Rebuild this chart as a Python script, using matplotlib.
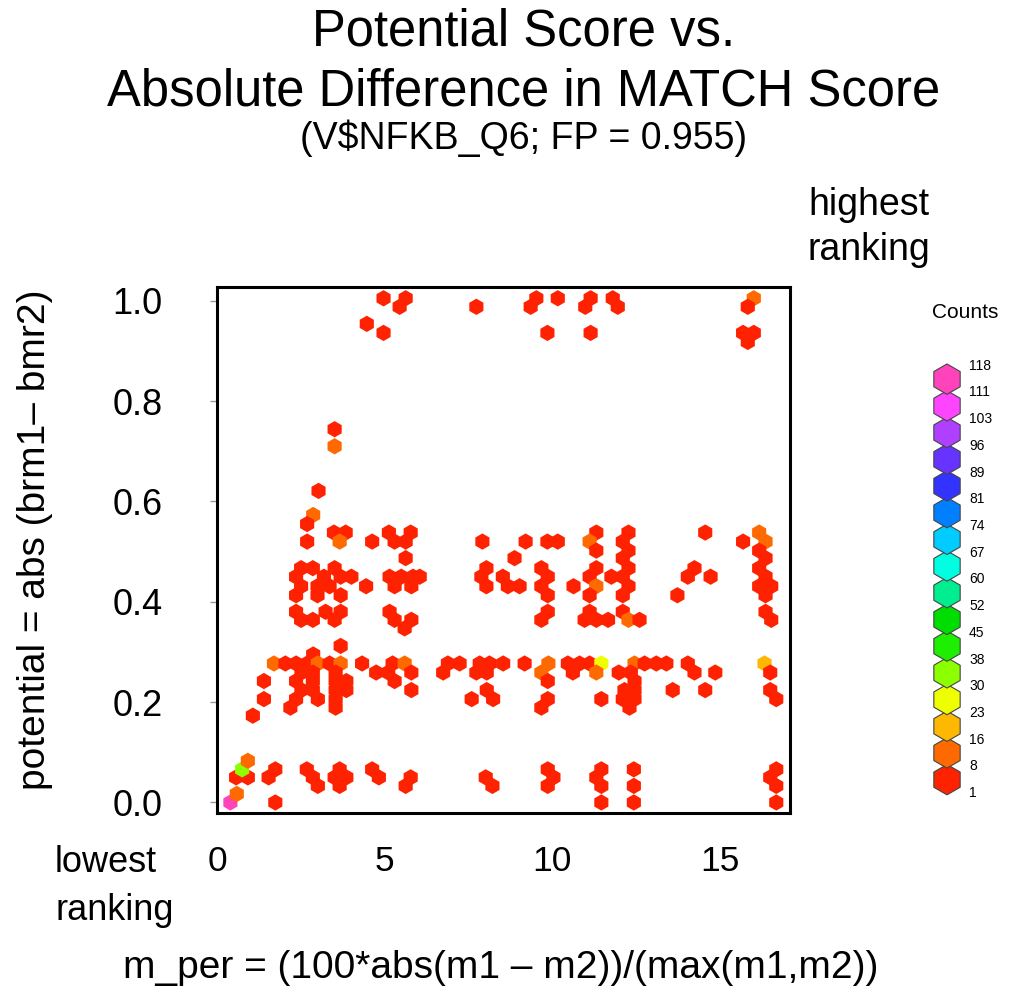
import matplotlib
matplotlib.use("Agg")
import matplotlib.pyplot as plt
from matplotlib.colors import ListedColormap, BoundaryNorm
from matplotlib.patches import RegularPolygon
import numpy as np

plt.rcParams['font.family'] = ['Liberation Sans', 'DejaVu Sans']

# ---------------- data (hexbin cells: centre x, centre y, count) ----------------
x_vals = [
    # top band
    4.97, 5.63, 5.45, 7.74, 4.47, 4.97,
    9.53, 9.36, 10.17, 11.15, 10.99, 11.81, 11.96, 9.86, 11.15,
    16.02, 15.84, 15.70, 16.02, 15.84,
    # upper middle
    3.51, 3.51, 3.03, 2.87, 2.69, 2.69,
    3.49, 3.84, 3.66, 4.63,
    5.13, 5.30, 5.63, 5.78, 5.63,
    7.92, 9.21, 9.86, 10.17, 8.88,
    11.32, 11.12, 11.32,
    12.28, 12.11, 12.28, 12.11,
    14.57, 15.70, 16.18, 16.37, 16.18, 16.37,
    # band 0.36 - 0.47 (left cluster)
    2.51, 2.86, 3.51,
    2.36, 3.19, 3.69, 4.01,
    2.51, 3.00, 3.36, 4.45,
    2.36, 3.00, 3.69,
    2.36, 3.24, 3.69,
    2.51, 2.86, 3.51,
    # band 0.36 - 0.47 (x ~ 5-6)
    5.15, 5.50, 5.85, 6.05,
    5.30, 5.80,
    5.15, 5.30, 5.80, 5.60,
    # band 0.36 - 0.47 (middle)
    8.04, 7.89, 8.04, 8.53, 8.68, 9.03,
    9.68, 9.87, 9.68, 9.87, 9.87, 9.68,
    11.32, 11.12, 11.32, 11.12, 10.64, 11.77,
    12.28, 12.11, 12.28, 12.11,
    11.12, 10.97, 11.32, 11.67, 12.11, 12.28, 12.61,
    14.25, 14.05, 14.73, 13.74,
    16.18, 16.37, 16.18, 16.54, 16.37, 16.37, 16.54,
    # 0.29 - 0.31
    3.69, 2.87,
    # row 0.277
    1.70, 2.04, 2.36, 2.69, 3.01, 3.36, 3.69, 4.33, 5.24, 5.60,
    6.89, 7.24, 7.84, 8.13, 8.54, 9.18, 9.89, 10.47, 10.82, 11.12,
    11.47, 12.46, 12.76, 13.11, 13.41, 14.05, 16.34,
    # row 0.259
    2.52, 2.86, 3.54, 4.75, 5.11, 5.80, 6.75, 7.74, 8.05, 9.68,
    10.62, 11.32, 11.99, 12.35, 14.25, 14.87, 16.51,
    # row 0.242
    1.40, 2.36, 2.86, 3.54, 3.86, 5.30, 9.87, 12.46,
    # row 0.224
    2.52, 2.86, 3.54, 3.86, 5.80, 8.05, 12.16, 12.46, 13.60, 14.57, 16.51,
    # row 0.206
    1.40, 2.36, 3.01, 3.54, 7.60, 8.24, 9.87, 11.47, 12.11, 12.46, 16.69,
    # row 0.189 / 0.173
    2.19, 3.54, 9.68, 12.31, 1.07,
    # bottom band
    0.40, 0.59, 0.57, 0.92, 0.75, 0.92,
    1.54, 1.74, 1.74,
    2.68, 2.86, 3.01,
    3.51, 3.86, 3.66, 3.66, 3.69,
    4.63, 4.83, 5.78, 5.63,
    8.02, 8.22,
    9.87, 10.04, 9.87,
    11.47, 11.32, 11.47, 11.47,
    12.44, 12.44, 12.44,
    16.69, 16.51, 16.69, 16.69,
]

y_vals = [
    1.005, 1.005, 0.988, 0.988, 0.954, 0.936,
    1.005, 0.988, 1.005, 1.005, 0.988, 1.005, 0.988, 0.936, 0.936,
    1.005, 0.988, 0.936, 0.936, 0.918,
    0.744, 0.710, 0.621, 0.573, 0.555, 0.520,
    0.538, 0.538, 0.520, 0.520,
    0.538, 0.520, 0.520, 0.538, 0.487,
    0.520, 0.520, 0.520, 0.520, 0.487,
    0.538, 0.520, 0.502,
    0.538, 0.520, 0.502, 0.487,
    0.538, 0.520, 0.538, 0.520, 0.502, 0.487,
    0.467, 0.467, 0.467,
    0.450, 0.450, 0.450, 0.450,
    0.431, 0.431, 0.431, 0.431,
    0.413, 0.413, 0.413,
    0.380, 0.380, 0.380,
    0.364, 0.364, 0.364,
    0.450, 0.450, 0.450, 0.450,
    0.431, 0.431,
    0.380, 0.364, 0.364, 0.347,
    0.467, 0.450, 0.431, 0.450, 0.431, 0.431,
    0.467, 0.450, 0.431, 0.413, 0.380, 0.364,
    0.467, 0.450, 0.431, 0.413, 0.431, 0.450,
    0.467, 0.450, 0.431, 0.413,
    0.380, 0.364, 0.364, 0.364, 0.380, 0.364, 0.364,
    0.467, 0.450, 0.450, 0.413,
    0.467, 0.450, 0.431, 0.431, 0.413, 0.380, 0.364,
    0.312, 0.295,
    0.277, 0.277, 0.277, 0.277, 0.277, 0.277, 0.277, 0.277, 0.277, 0.277,
    0.277, 0.277, 0.277, 0.277, 0.277, 0.277, 0.277, 0.277, 0.277, 0.277,
    0.277, 0.277, 0.277, 0.277, 0.277, 0.277, 0.277,
    0.259, 0.259, 0.259, 0.259, 0.259, 0.259, 0.259, 0.259, 0.259, 0.259,
    0.259, 0.259, 0.259, 0.259, 0.259, 0.259, 0.259,
    0.242, 0.242, 0.242, 0.242, 0.242, 0.242, 0.242, 0.242,
    0.224, 0.224, 0.224, 0.224, 0.224, 0.224, 0.224, 0.224, 0.224, 0.224, 0.224,
    0.206, 0.206, 0.206, 0.206, 0.206, 0.206, 0.206, 0.206, 0.206, 0.206, 0.206,
    0.189, 0.189, 0.189, 0.189, 0.173,
    0.000, 0.017, 0.050, 0.050, 0.066, 0.083,
    0.050, 0.066, 0.000,
    0.066, 0.050, 0.033,
    0.050, 0.050, 0.066, 0.033, 0.050,
    0.066, 0.050, 0.050, 0.033,
    0.050, 0.033,
    0.066, 0.050, 0.033,
    0.066, 0.050, 0.033, 0.000,
    0.066, 0.033, 0.000,
    0.066, 0.050, 0.033, 0.000,
]

counts = [
    2, 2, 2, 2, 2, 2,
    2, 2, 2, 2, 2, 2, 2, 2, 2,
    11, 2, 2, 2, 2,
    2, 10, 2, 10, 2, 2,
    2, 2, 10, 2,
    2, 2, 2, 2, 2,
    2, 2, 2, 2, 2,
    2, 10, 2,
    2, 2, 2, 2,
    2, 2, 11, 11, 2, 2,
    2, 2, 2,
    2, 2, 2, 2,
    2, 2, 2, 2,
    2, 2, 2,
    2, 2, 2,
    2, 2, 2,
    2, 2, 2, 2,
    2, 2,
    2, 2, 2, 2,
    2, 2, 2, 2, 2, 2,
    2, 2, 2, 2, 2, 2,
    2, 2, 10, 2, 2, 2,
    2, 2, 2, 2,
    2, 2, 2, 2, 2, 10, 2,
    2, 2, 2, 2,
    2, 2, 2, 2, 2, 2, 2,
    2, 2,
    10, 2, 2, 2, 10, 2, 10, 2, 2, 10,
    2, 2, 2, 2, 2, 2, 10, 2, 2, 2,
    26, 10, 2, 2, 2, 2, 19,
    2, 2, 2, 2, 2, 2, 2, 2, 2, 10,
    2, 10, 2, 2, 2, 2, 2,
    2, 2, 2, 2, 2, 2, 2, 2,
    2, 2, 2, 2, 2, 2, 2, 2, 2, 2, 2,
    2, 2, 2, 2, 2, 2, 2, 2, 2, 2, 2,
    2, 2, 2, 2, 2,
    117, 10, 2, 2, 35, 10,
    2, 2, 2,
    2, 2, 2,
    2, 2, 2, 2, 2,
    2, 2, 2, 2,
    2, 2,
    2, 2, 2,
    2, 2, 2, 2,
    2, 2, 2,
    2, 2, 2, 2,
]

count_breaks = [1, 8, 16, 23, 30, 38, 45, 52, 60, 67, 74, 81, 89, 96, 103, 111, 118]
bin_colors = ['#FF2200', '#FF6A00', '#FFB800', '#EEFF00', '#8CFF00', '#1EEE00',
              '#00DD00', '#00EE90', '#00FFE0', '#00CCFF', '#0080FF', '#3333FF',
              '#6633FF', '#B040FF', '#FF44FF', '#FF44BB']

x_ticks = [0, 5, 10, 15]
y_ticks = [0.0, 0.2, 0.4, 0.6, 0.8, 1.0]

# ---------------- figure ----------------
W, H = 1009, 1002
fig = plt.figure(figsize=(W / 100, H / 100), dpi=100)

def fx(px):
    return px / W

def fy(py):
    return 1 - py / H

ax = fig.add_axes([fx(217), fy(813), (790 - 217) / W, (813 - 287) / H])
cmap = ListedColormap(bin_colors)
norm = BoundaryNorm(count_breaks, cmap.N, clip=True)
ax.scatter(x_vals, y_vals, c=counts, cmap=cmap, norm=norm, marker='h', s=138,
           linewidths=0, zorder=3)
ax.set_xlim(0, 17.1)
ax.set_ylim(-0.021, 1.0275)
for sp in ax.spines.values():
    sp.set_linewidth(2.2)
    sp.set_color('black')

ax.set_xticks(x_ticks)
ax.set_xticklabels([str(t) for t in x_ticks])
ax.set_yticks(y_ticks)
ax.set_yticklabels(['%.1f' % t for t in y_ticks])
ax.tick_params(axis='x', length=0, pad=23, labelsize=25.5)
ax.tick_params(axis='y', length=5, width=1, color='#999999', pad=34, labelsize=26)

# titles
fig.text(fx(524), fy(32), 'Potential Score vs.', ha='center', va='center', fontsize=36.5)
fig.text(fx(524), fy(92), 'Absolute Difference in MATCH Score', ha='center', va='center', fontsize=36.5)
fig.text(fx(524), fy(138), '(V$NFKB_Q6; FP = 0.955)', ha='center', va='center', fontsize=27)

# axis labels
fig.text(fx(501), fy(968), 'm_per = (100*abs(m1 \u2013 m2))/(max(m1,m2))', ha='center', va='center', fontsize=28)
fig.text(fx(35), fy(540), 'potential = abs (brm1\u2013 bmr2)', ha='center', va='center',
         rotation=90, fontsize=28)

fig.text(fx(808), fy(205), 'highest', ha='left', va='center', fontsize=27)
fig.text(fx(808), fy(250), 'ranking', ha='left', va='center', fontsize=27)
fig.text(fx(55), fy(862), 'lowest', ha='left', va='center', fontsize=26)
fig.text(fx(55), fy(910), 'ranking', ha='left', va='center', fontsize=26)

# legend
lax = fig.add_axes([fx(920), fy(810), 89 / W, (810 - 290) / H])
lax.set_xlim(920, 1009)
lax.set_ylim(810, 290)
lax.axis('off')
lax.text(965, 312, 'Counts', ha='center', va='center', fontsize=15)
step = 26.7
for j, col in enumerate(bin_colors):
    cy = 793 - (j + 0.5) * step
    lax.add_patch(RegularPolygon((947, cy), numVertices=6, radius=15.2, orientation=0,
                                 facecolor=col, edgecolor='#444444', linewidth=0.8))
for i, lab in enumerate(count_breaks):
    lax.text(969, 793 - i * step, str(lab), ha='left', va='center', fontsize=10)

fig.savefig('out.png', dpi=100)
